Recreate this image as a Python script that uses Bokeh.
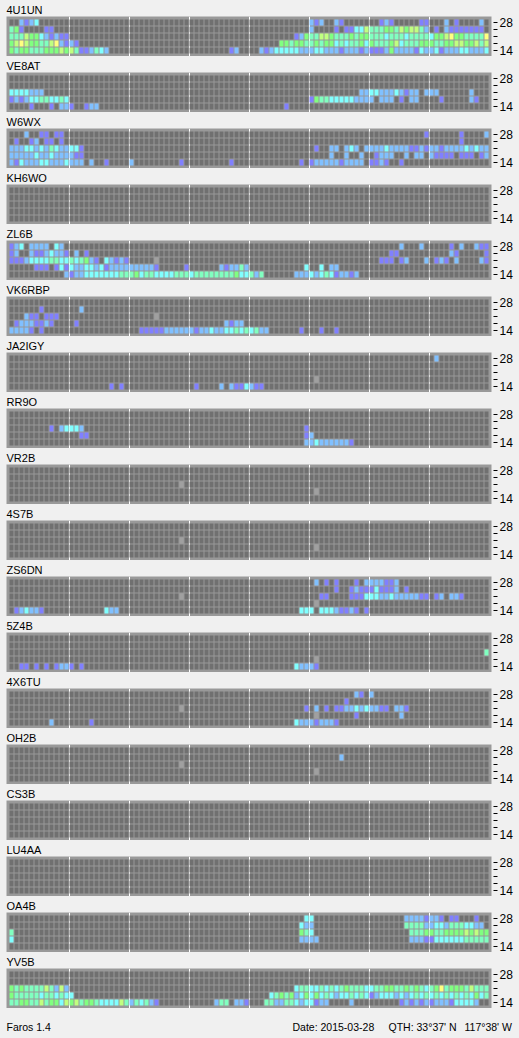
from bokeh.embed import file_html
from bokeh.layouts import column
from bokeh.models import ColumnDataSource, FixedTicker, Label, Range1d
from bokeh.plotting import figure
from bokeh.resources import INLINE

STATIONS = ["4U1UN", "VE8AT", "W6WX", "KH6WO", "ZL6B", "VK6RBP", "JA2IGY", "RR9O", "VR2B",
            "4S7B", "ZS6DN", "5Z4B", "4X6TU", "OH2B", "CS3B", "LU4AA", "OA4B", "YV5B"]
BAND_TICKS = ["14", "", "", "", "28"]
HOUR_MARKS = [12, 24, 36, 48, 60, 72, 84]
SLOTS = 96
FOOT_LEFT = "Faros 1.4"
FOOT_DATE = "Date: 2015-03-28"
FOOT_QTH = "QTH: 33°37' N"
FOOT_LON = "117°38' W"
# level 0 = no reception, 1..7 = signal strength, 8 = station not transmitting marker
PALETTE = ["#707070", "#8080ff", "#80c0ff", "#80ffff", "#80ffc0", "#80ff80", "#c0ff80", "#ffff80", "#a0a0a0"]

# each station: five rows top (28 MHz) to bottom (14 MHz); each row: (slot, levels) runs
R_4U1UN = [
    [(2, "2123"), (60, "212"), (65, "21"), (74, "121"), (82, "11"), (87, "2"), (89, "1"), (94, "2")],
    [(0, "451"), (7, "11"), (60, "2"), (65, "1"), (67, "11336 44455 46566 42"), (85, "1"), (87, "21111 111")],
    [(0, "44465 53212 11"), (57, "12544 66544 45455 44434 44344 44355 67554 4447")],
    [(0, "56765 54467 2121"), (54, "55455 4"), (60, "45455 34344 53"), (72, "54445 63444 55"), (84, "54455 66556 46")],
    [(0, "54554 44555 65641 12432"), (44, "12"), (50, "21233 33322"), (60, "23322 21222 12"), (72, "11125"), (77, "22221 32"), (84, "23122 23322 23")],
]
R_VE8AT = [
    [], [],
    [(0, "33332 22"), (70, "22332 22321 22"), (83, "222"), (92, "2")],
    [(0, "12123 34433 43"), (60, "15443 33332 22"), (72, "2"), (74, "222"), (78, "1"), (80, "22"), (86, "1"), (92, "21")],
    [(4, "1"), (8, "1"), (10, "221"), (15, "122"), (55, "1")],
]
R_W6WX = [
    [(3, "2"), (6, "11"), (9, "11"), (83, "1"), (90, "1"), (95, "2")],
    [(1, "1"), (4, "12"), (7, "11"), (10, "1"), (90, "1")],
    [(0, "22233 23243 22331"), (61, "1"), (64, "22"), (67, "232"), (71, "22223 22221 12122 12222 32322 3")],
    [(0, "22222 32232 22211"), (64, "2"), (67, "2"), (70, "2"), (73, "1222"), (79, "2"), (81, "22"), (84, "21111"), (90, "111"), (94, "12")],
    [(0, "21322 23322 23222"), (16, "2"), (19, "1"), (24, "2"), (34, "1"), (44, "1"), (58, "1"), (60, "12222 21222 2"), (72, "1121"), (78, "1")],
]
R_KH6WO = [[], [], [], [], []]
R_ZL6B = [
    [(0, "123"), (4, "2222"), (9, "32"), (78, "2"), (82, "2"), (88, "1"), (90, "2"), (93, "211")],
    [(0, "12"), (4, "21123 221"), (13, "2"), (15, "1"), (76, "11"), (88, "21"), (95, "1")],
    [(0, "11123 33344 33434 521"), (19, "32121"), (29, "8"), (74, "111"), (78, "12"), (83, "2"), (85, "121"), (89, "2"), (94, "21")],
    [(5, "111"), (9, "13132 23323 12222 22222 1"), (35, "1"), (42, "21224 2"), (59, "3"), (62, "3"), (64, "22")],
    [(11, "21223 33333 34445 34433 33444 34444 44445 33424"), (57, "22232 34312 212")],
]
R_VK6RBP = [
    [],
    [(6, "1"), (14, "2")],
    [(3, "211"), (7, "111"), (29, "8")],
    [(1, "12221 121"), (13, "1"), (43, "2122")],
    [(0, "22221"), (6, "1"), (26, "11111 22222 21223 22334 34342 2"), (58, "1"), (62, "1"), (65, "1")],
]
R_JA2IGY = [
    [(85, "2")], [], [],
    [(61, "8")],
    [(20, "1"), (22, "1"), (37, "1"), (42, "2"), (44, "21132 11")],
]
R_RR9O = [
    [], [],
    [(8, "1"), (10, "23332"), (59, "1")],
    [(14, "11"), (59, "12")],
    [(59, "22322 22221")],
]
R_VR2B = [[], [], [(34, "8")], [(61, "8")], []]
R_4S7B = [[], [], [(34, "8")], [(61, "8")], []]
R_ZS6DN = [
    [(61, "2"), (63, "1"), (65, "1"), (69, "1"), (71, "22221 12")],
    [(65, "1"), (68, "12111 31112"), (79, "1")],
    [(34, "8"), (62, "11"), (68, "11133 32232 22221 1"), (85, "12"), (88, "221")],
    [(61, "8")],
    [(1, "12322 1"), (19, "322"), (58, "333"), (62, "33321 121"), (71, "1")],
]
R_5Z4B = [
    [], [],
    [(95, "4")],
    [(61, "8")],
    [(2, "11"), (5, "1"), (7, "1"), (9, "1221"), (14, "1"), (57, "32221")],
]
R_4X6TU = [
    [(69, "21"), (72, "2")],
    [(67, "1")],
    [(34, "8"), (59, "1"), (61, "2"), (63, "1"), (65, "11223 23221 1"), (77, "221")],
    [(61, "8"), (69, "1"), (78, "2")],
    [(8, "2"), (16, "1"), (57, "32221 2221")],
]
R_OH2B = [[], [(66, "2")], [(34, "8")], [(61, "8")], []]
R_CS3B = [[], [], [], [], []]
R_LU4AA = [[], [], [], [], []]
R_OA4B = [
    [(59, "33"), (79, "22221 221"), (88, "11"), (93, "1")],
    [(58, "322"), (79, "44442 23324 44332 2")],
    [(0, "4"), (58, "543"), (80, "44455 44555 56565 5")],
    [(0, "3"), (58, "2222"), (80, "22211 33333 34444 4")],
    [],
]
R_YV5B = [
    [], [],
    [(0, "54544 44642 62"), (57, "34433 43434 54443 34455 44545 43457 45554 6444")],
    [(0, "54444 43443 433"), (52, "34545 23535 34323 34343 12333 23234 34343 43434 35344 5435")],
    [(0, "44554 46455 36564 55433 33642 43421"), (41, "244"), (45, "221"), (51, "44224 43233 122"), (68, "2"), (78, "12121 21222 13333 2")],
]
ROWS = [R_4U1UN, R_VE8AT, R_W6WX, R_KH6WO, R_ZL6B, R_VK6RBP, R_JA2IGY, R_RR9O, R_VR2B,
        R_4S7B, R_ZS6DN, R_5Z4B, R_4X6TU, R_OH2B, R_CS3B, R_LU4AA, R_OA4B, R_YV5B]


def expand(rows):
    slots, bands, levels = [], [], []
    for i, runs in enumerate(rows):
        line = [0] * SLOTS
        for start, text in runs:
            for k, ch in enumerate(text.replace(" ", "")):
                if start + k < SLOTS and ch != ".":
                    line[start + k] = int(ch)
        for s, lv in enumerate(line):
            slots.append(s)
            bands.append(4 - i)
            levels.append(lv)
    return slots, bands, levels


FONT = "Liberation Sans"
panels = []
for name, rows in zip(STATIONS, ROWS):
    s, b, lv = expand(rows)
    src = ColumnDataSource(dict(
        left=[v + 0.1 for v in s], right=[v + 0.9 for v in s],
        bottom=[v - 0.5 for v in b], top=[v + 5 / 14 for v in b],
        color=[PALETTE[v] for v in lv]))
    p = figure(width=519, height=56, title=name,
               x_range=Range1d(-0.5, 96.5), y_range=Range1d(-6.5 / 7, 33.5 / 7),
               x_axis_location=None, y_axis_location="right",
               toolbar_location=None, output_backend="svg",
               min_border_left=6, min_border_right=28, min_border_top=16, min_border_bottom=0,
               background_fill_color="#999999", border_fill_color="#f0f0f0", outline_line_color=None)
    p.title.text_font = FONT
    p.title.text_font_size = "11px"
    p.title.text_font_style = "normal"
    p.title.text_color = "#000000"
    p.title.standoff = 2
    p.title.offset = 0
    p.quad(left="left", right="right", bottom="bottom", top="top", fill_color="color",
           line_color=None, source=src)
    p.ygrid.visible = False
    p.xgrid.ticker = FixedTicker(ticks=HOUR_MARKS)
    p.xgrid.grid_line_color = "#ffffff"
    p.xgrid.grid_line_width = 1
    ax = p.yaxis[0]
    ax.ticker = FixedTicker(ticks=list(range(5)))
    ax.major_label_overrides = {i: t for i, t in enumerate(BAND_TICKS)}
    ax.axis_line_color = None
    ax.minor_tick_line_color = None
    ax.major_tick_line_color = "#000000"
    ax.major_tick_in = -2
    ax.major_tick_out = 6
    ax.major_label_standoff = 2
    ax.major_label_text_font = FONT
    ax.major_label_text_font_size = "12px"
    ax.major_label_text_color = "#000000"
    panels.append(p)

foot = figure(width=519, height=30, x_range=Range1d(0, 519), y_range=Range1d(0, 30),
              x_axis_location=None, y_axis_location=None, toolbar_location=None, output_backend="svg",
              min_border_left=0, min_border_right=0, min_border_top=0, min_border_bottom=0,
              background_fill_color="#f0f0f0", border_fill_color="#f0f0f0", outline_line_color=None,
              frame_align=False)
foot.grid.visible = False
for text, x in [(FOOT_LEFT, 6), (FOOT_DATE, 292), (FOOT_QTH, 388), (FOOT_LON, 464)]:
    foot.add_layout(Label(x=x, y=12, text=text, text_font=FONT, text_font_size="10.5px",
                          text_color="#000000", text_baseline="alphabetic"))
foot.line(x=[0, 1], y=[0, 0], line_alpha=0)

page = column(*panels, foot, spacing=0)
html = file_html(page, INLINE)
html = html.replace("<body>", '<body style="margin:0;background:#f0f0f0">')
open("out.html", "w").write(html)
